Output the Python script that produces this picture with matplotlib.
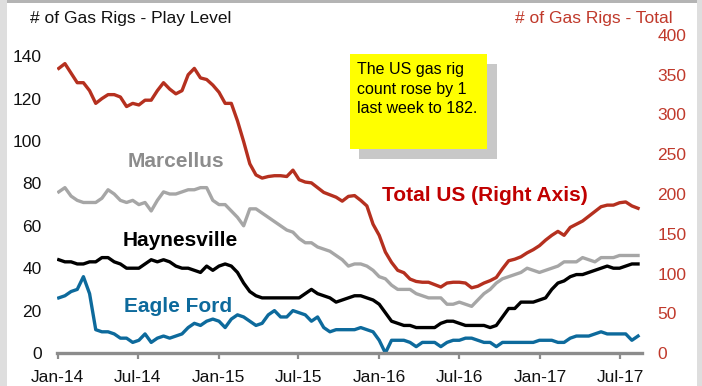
import matplotlib
matplotlib.use("Agg")
import matplotlib.pyplot as plt
import matplotlib.dates as mdates
from matplotlib.patches import Rectangle
import pandas as pd

plt.rcParams['font.family'] = ['Liberation Sans', 'DejaVu Sans']

# Bi-weekly rig counts, first reading in early January 2014
dates = pd.date_range('2014-01-03', periods=95, freq='14D')

total_us = [358, 364, 352, 340, 340, 330, 314, 320, 325, 325,
            322, 310, 314, 312, 318, 318, 330, 340, 332, 326,
            330, 350, 358, 346, 344, 337, 328, 314, 314, 292,
            266, 238, 224, 220, 222, 223, 223, 222, 230, 218,
            215, 214, 208, 202, 199, 196, 191, 197, 198, 192,
            185, 162, 148, 127, 114, 104, 101, 93, 90, 89,
            89, 86, 83, 88, 89, 89, 88, 82, 84, 88,
            91, 95, 106, 116, 118, 121, 126, 130, 135, 142,
            148, 153, 148, 158, 162, 166, 172, 178, 184, 186,
            186, 189, 190, 185, 182]

marcellus = [76, 78, 74, 72, 71, 71, 71, 73, 77, 75,
             72, 71, 72, 70, 71, 67, 72, 76, 75, 75,
             76, 77, 77, 78, 78, 72, 70, 70, 67, 64,
             60, 68, 68, 66, 64, 62, 60, 58, 57, 54,
             52, 52, 50, 49, 48, 46, 44, 41, 42, 42,
             41, 39, 36, 35, 32, 30, 30, 30, 28, 27,
             26, 26, 26, 23, 23, 24, 23, 22, 25, 28,
             30, 33, 35, 36, 37, 38, 40, 39, 38, 39,
             40, 41, 43, 43, 43, 45, 44, 43, 45, 45,
             45, 46, 46, 46, 46]

haynesville = [44, 43, 43, 42, 42, 43, 43, 45, 45, 43,
               42, 40, 40, 40, 42, 44, 43, 44, 43, 41,
               40, 40, 39, 38, 41, 39, 41, 42, 41, 38,
               33, 29, 27, 26, 26, 26, 26, 26, 26, 26,
               28, 30, 28, 27, 26, 24, 25, 26, 27, 27,
               26, 25, 23, 19, 15, 14, 13, 13, 12, 12,
               12, 12, 14, 15, 15, 14, 13, 13, 13, 13,
               12, 13, 17, 21, 21, 24, 24, 24, 25, 26,
               30, 33, 34, 36, 37, 37, 38, 39, 40, 41,
               40, 40, 41, 42, 42]

eagle_ford = [26, 27, 29, 30, 36, 28, 11, 10, 10, 9,
              7, 7, 5, 6, 9, 5, 7, 8, 7, 8,
              9, 12, 14, 13, 15, 16, 15, 12, 16, 18,
              17, 15, 13, 14, 18, 20, 17, 17, 20, 19,
              18, 15, 17, 12, 10, 11, 11, 11, 11, 12,
              11, 10, 6, 0, 6, 6, 6, 5, 3, 5,
              5, 5, 3, 5, 6, 6, 7, 7, 6, 5,
              5, 3, 5, 5, 5, 5, 5, 5, 6, 6,
              6, 5, 5, 7, 8, 8, 8, 9, 10, 9,
              9, 9, 9, 6, 8]

RED = '#B5301F'
RED_TXT = '#C0392B'
GRAY = '#A6A6A6'
BLUE = '#0D6A9C'

fig = plt.figure(figsize=(7.02, 3.86), dpi=100)
fig.patch.set_facecolor('white')

# thin frame bands around the chart area
fig.patches.append(Rectangle((0, 0), 7 / 702, 1, transform=fig.transFigure,
                             facecolor='#DEDEDE', edgecolor='none', zorder=0))
fig.patches.append(Rectangle((697 / 702, 0), 5 / 702, 1, transform=fig.transFigure,
                             facecolor='#DEDEDE', edgecolor='none', zorder=0))
fig.patches.append(Rectangle((7 / 702, 1 - 3 / 386), 690 / 702, 3 / 386,
                             transform=fig.transFigure,
                             facecolor='#B4B4B4', edgecolor='none', zorder=0))

ax = fig.add_axes([57 / 702, 1 - 353 / 386, 585 / 702, 318 / 386])
ax2 = ax.twinx()

ax.plot(dates, marcellus, color=GRAY, lw=2.4, solid_joinstyle='round')
ax.plot(dates, haynesville, color='black', lw=2.4, solid_joinstyle='round')
ax.plot(dates, eagle_ford, color=BLUE, lw=2.4, solid_joinstyle='round')
ax2.plot(dates, total_us, color=RED, lw=2.4, solid_joinstyle='round')

ax.set_ylim(0, 150)
ax2.set_ylim(0, 400)
ax.set_yticks(range(0, 141, 20))
ax2.set_yticks(range(0, 401, 50))
ax.set_xlim(pd.Timestamp('2013-12-30'), pd.Timestamp('2017-08-20'))

ax.xaxis.set_major_locator(mdates.MonthLocator(bymonth=[1, 7]))
ax.xaxis.set_major_formatter(mdates.DateFormatter('%b-%y'))

for a in (ax, ax2):
    for s in ('top', 'left', 'right'):
        a.spines[s].set_visible(False)
    a.set_facecolor('none')
ax2.spines['bottom'].set_visible(False)
ax.spines['bottom'].set_color('#8C8C8C')
ax.spines['bottom'].set_linewidth(2.4)

ax.tick_params(axis='x', direction='out', length=4, width=1.6, color='#8C8C8C',
               labelsize=12.5, pad=8, labelcolor='#111111')
ax.tick_params(axis='y', length=0, labelsize=12.5, pad=11, labelcolor='#111111')
ax2.tick_params(axis='y', length=0, labelsize=12.5, pad=11, labelcolor=RED_TXT)

fig.text(30 / 702, 1 - 18 / 386, '# of Gas Rigs - Play Level', fontsize=12.5,
         color='#111111', va='center', ha='left')
fig.text(673 / 702, 1 - 18 / 386, '# of Gas Rigs - Total', fontsize=12.5,
         color=RED_TXT, va='center', ha='right')

# series labels
ax.text(pd.Timestamp('2014-09-27'), 90.5, 'Marcellus', color='#8C8C8C',
        fontsize=15, fontweight='bold', ha='center', va='center')
ax.text(pd.Timestamp('2014-10-05'), 53, 'Haynesville', color='black',
        fontsize=15, fontweight='bold', ha='center', va='center')
ax.text(pd.Timestamp('2014-09-30'), 22, 'Eagle Ford', color=BLUE,
        fontsize=15, fontweight='bold', ha='center', va='center')
ax2.text(pd.Timestamp('2016-08-27'), 198, 'Total US (Right Axis)', color='#C00000',
         fontsize=15, fontweight='bold', ha='center', va='center')

# note box with drop shadow
fig.patches.append(Rectangle((359 / 702, 1 - 159 / 386), 138 / 702, 95 / 386,
                             transform=fig.transFigure, facecolor='#C8C8C8',
                             edgecolor='none', zorder=3))
fig.patches.append(Rectangle((350 / 702, 1 - 149 / 386), 137 / 702, 95 / 386,
                             transform=fig.transFigure, facecolor='#FFFF00',
                             edgecolor='none', zorder=4))
fig.text(357 / 702, 1 - 62 / 386,
         'The US gas rig\ncount rose by 1\nlast week to 182.',
         fontsize=11.5, color='black', ha='left', va='top', linespacing=1.38,
         zorder=5)

fig.savefig('out.png', dpi=100)
